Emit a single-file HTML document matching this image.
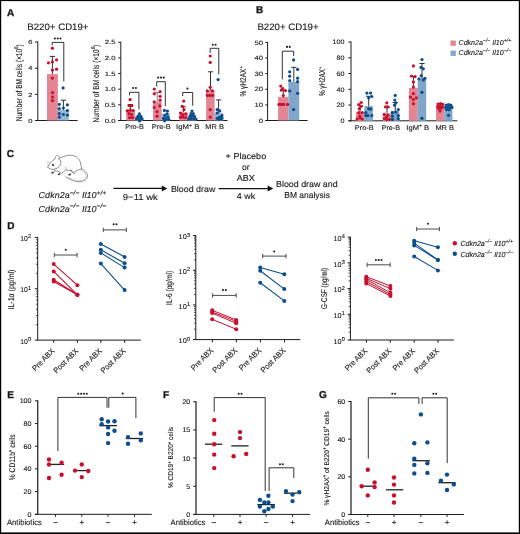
<!DOCTYPE html>
<html><head><meta charset="utf-8"><style>
html,body{margin:0;padding:0;background:#fff;}
svg{display:block;will-change:transform;}
text{font-family:"Liberation Sans", sans-serif;fill:#1a1a1a;stroke:#1a1a1a;stroke-width:0.12px;text-rendering:geometricPrecision;}
</style></head><body>
<svg width="520" height="534" viewBox="0 0 520 534">
<rect x="0" y="0" width="520" height="534" fill="#fff"/>
<text x="7" y="15.9" font-size="10" font-weight="bold" style="stroke-width:0.35px">A</text>
<text x="255.9" y="12.7" font-size="10" font-weight="bold" style="stroke-width:0.35px">B</text>
<text x="6.8" y="157.1" font-size="10" font-weight="bold" style="stroke-width:0.35px">C</text>
<text x="7.3" y="229.4" font-size="10" font-weight="bold" style="stroke-width:0.35px">D</text>
<text x="7.2" y="397.8" font-size="10" font-weight="bold" style="stroke-width:0.35px">E</text>
<text x="162.9" y="398.1" font-size="10" font-weight="bold" style="stroke-width:0.35px">F</text>
<text x="319" y="398.1" font-size="10" font-weight="bold" style="stroke-width:0.35px">G</text>
<text x="27.3" y="30.1" font-size="9.4" textLength="61.2" lengthAdjust="spacingAndGlyphs">B220+ CD19+</text>
<text x="257.4" y="30.1" font-size="9.4" textLength="61.2" lengthAdjust="spacingAndGlyphs">B220+ CD19+</text>
<line x1="37.8" y1="41.52" x2="37.8" y2="121" stroke="#1c1c1c" stroke-width="1" stroke-linecap="butt"/>
<line x1="35" y1="120.5" x2="37.8" y2="120.5" stroke="#1c1c1c" stroke-width="1" stroke-linecap="butt"/>
<text x="32.4" y="122.7" font-size="6.1" text-anchor="end" textLength="4.2" lengthAdjust="spacingAndGlyphs">0</text>
<line x1="35" y1="94.34" x2="37.8" y2="94.34" stroke="#1c1c1c" stroke-width="1" stroke-linecap="butt"/>
<text x="32.4" y="96.54" font-size="6.1" text-anchor="end" textLength="4.2" lengthAdjust="spacingAndGlyphs">2</text>
<line x1="35" y1="68.18" x2="37.8" y2="68.18" stroke="#1c1c1c" stroke-width="1" stroke-linecap="butt"/>
<text x="32.4" y="70.38" font-size="6.1" text-anchor="end" textLength="4.2" lengthAdjust="spacingAndGlyphs">4</text>
<line x1="35" y1="42.02" x2="37.8" y2="42.02" stroke="#1c1c1c" stroke-width="1" stroke-linecap="butt"/>
<text x="32.4" y="44.22" font-size="6.1" text-anchor="end" textLength="4.2" lengthAdjust="spacingAndGlyphs">6</text>
<line x1="35" y1="120.5" x2="77.6" y2="120.5" stroke="#1c1c1c" stroke-width="1" stroke-linecap="butt"/>
<text x="0" y="0" font-size="8.6" textLength="77" lengthAdjust="spacingAndGlyphs" transform="translate(22.2,121.3) rotate(-90)">Number of BM cells (×10<tspan font-size="5.6" dy="-3.8">6</tspan><tspan dy="3.8">)</tspan></text>
<rect x="47" y="74.1" width="10.9" height="46.4" fill="#e48594"/>
<rect x="57.9" y="110" width="11" height="10.5" fill="#95b8d6"/>
<line x1="52.4" y1="74.1" x2="52.4" y2="56.4" stroke="#1c1c1c" stroke-width="0.9" stroke-linecap="butt"/>
<line x1="49.8" y1="56.4" x2="55" y2="56.4" stroke="#1c1c1c" stroke-width="0.9" stroke-linecap="butt"/>
<line x1="63.4" y1="110" x2="63.4" y2="100.2" stroke="#1c1c1c" stroke-width="0.9" stroke-linecap="butt"/>
<line x1="60.8" y1="100.2" x2="66" y2="100.2" stroke="#1c1c1c" stroke-width="0.9" stroke-linecap="butt"/>
<circle cx="52.4" cy="48.2" r="1.6" fill="#c8102e"/>
<circle cx="48.4" cy="62.8" r="1.6" fill="#c8102e"/>
<circle cx="52.4" cy="61.9" r="1.6" fill="#c8102e"/>
<circle cx="56.6" cy="59.8" r="1.6" fill="#c8102e"/>
<circle cx="52.4" cy="70.1" r="1.6" fill="#c8102e"/>
<circle cx="56.6" cy="69.2" r="1.6" fill="#c8102e"/>
<circle cx="52.4" cy="78.1" r="1.6" fill="#c8102e"/>
<circle cx="52.5" cy="92.7" r="1.6" fill="#c8102e"/>
<circle cx="52.5" cy="97" r="1.6" fill="#c8102e"/>
<circle cx="52.5" cy="100.6" r="1.6" fill="#c8102e"/>
<circle cx="63.1" cy="87.9" r="1.6" fill="#0c4d8c"/>
<circle cx="59.3" cy="104.4" r="1.6" fill="#0c4d8c"/>
<circle cx="67.4" cy="104.8" r="1.6" fill="#0c4d8c"/>
<circle cx="59.3" cy="108.7" r="1.6" fill="#0c4d8c"/>
<circle cx="63.4" cy="108" r="1.6" fill="#0c4d8c"/>
<circle cx="67.4" cy="110.5" r="1.6" fill="#0c4d8c"/>
<circle cx="59.3" cy="113.7" r="1.6" fill="#0c4d8c"/>
<circle cx="63.4" cy="114.5" r="1.6" fill="#0c4d8c"/>
<circle cx="67.4" cy="115.1" r="1.6" fill="#0c4d8c"/>
<circle cx="59.3" cy="117.2" r="1.6" fill="#0c4d8c"/>
<polyline points="52.2,45.2 52.2,42.4 63.8,42.4 63.8,81.3" fill="none" stroke="#1c1c1c" stroke-width="0.9"/>
<circle cx="54.9" cy="38.5" r="1.05" fill="#202020"/>
<circle cx="57.7" cy="38.5" r="1.05" fill="#202020"/>
<circle cx="60.5" cy="38.5" r="1.05" fill="#202020"/>
<line x1="120.8" y1="41.75" x2="120.8" y2="121" stroke="#1c1c1c" stroke-width="1" stroke-linecap="butt"/>
<line x1="118.2" y1="120.5" x2="120.8" y2="120.5" stroke="#1c1c1c" stroke-width="1" stroke-linecap="butt"/>
<text x="115.6" y="122.7" font-size="6.1" text-anchor="end" textLength="10.8" lengthAdjust="spacingAndGlyphs">0.0</text>
<line x1="118.2" y1="104.85" x2="120.8" y2="104.85" stroke="#1c1c1c" stroke-width="1" stroke-linecap="butt"/>
<text x="115.6" y="107.05" font-size="6.1" text-anchor="end" textLength="10.8" lengthAdjust="spacingAndGlyphs">0.5</text>
<line x1="118.2" y1="89.2" x2="120.8" y2="89.2" stroke="#1c1c1c" stroke-width="1" stroke-linecap="butt"/>
<text x="115.6" y="91.4" font-size="6.1" text-anchor="end" textLength="10.8" lengthAdjust="spacingAndGlyphs">1.0</text>
<line x1="118.2" y1="73.55" x2="120.8" y2="73.55" stroke="#1c1c1c" stroke-width="1" stroke-linecap="butt"/>
<text x="115.6" y="75.75" font-size="6.1" text-anchor="end" textLength="10.8" lengthAdjust="spacingAndGlyphs">1.5</text>
<line x1="118.2" y1="57.9" x2="120.8" y2="57.9" stroke="#1c1c1c" stroke-width="1" stroke-linecap="butt"/>
<text x="115.6" y="60.1" font-size="6.1" text-anchor="end" textLength="10.8" lengthAdjust="spacingAndGlyphs">2.0</text>
<line x1="118.2" y1="42.25" x2="120.8" y2="42.25" stroke="#1c1c1c" stroke-width="1" stroke-linecap="butt"/>
<text x="115.6" y="44.45" font-size="6.1" text-anchor="end" textLength="10.8" lengthAdjust="spacingAndGlyphs">2.5</text>
<line x1="118.2" y1="120.5" x2="227.5" y2="120.5" stroke="#1c1c1c" stroke-width="1" stroke-linecap="butt"/>
<text x="0" y="0" font-size="8.6" textLength="77.9" lengthAdjust="spacingAndGlyphs" transform="translate(99.2,122.6) rotate(-90)">Number of BM cells (×10<tspan font-size="5.6" dy="-3.8">6</tspan><tspan dy="3.8">)</tspan></text>
<text x="125.3" y="129.3" font-size="6.8" textLength="18.6" lengthAdjust="spacingAndGlyphs">Pro-B</text>
<text x="151.8" y="129.3" font-size="6.8" textLength="18.9" lengthAdjust="spacingAndGlyphs">Pre-B</text>
<text x="176.1" y="129.3" font-size="6.8" textLength="23.3" lengthAdjust="spacingAndGlyphs">IgM<tspan font-size="4.5" dy="-2.6">+</tspan><tspan dy="2.6"> B</tspan></text>
<text x="205.3" y="129.3" font-size="6.8" textLength="18.6" lengthAdjust="spacingAndGlyphs">MR B</text>
<rect x="126.2" y="109.8" width="8.8" height="10.7" fill="#e48594"/>
<rect x="135" y="116.3" width="8.2" height="4.2" fill="#95b8d6"/>
<line x1="130.4" y1="109.8" x2="130.4" y2="104.5" stroke="#1c1c1c" stroke-width="0.9" stroke-linecap="butt"/>
<line x1="127.8" y1="104.5" x2="133" y2="104.5" stroke="#1c1c1c" stroke-width="0.9" stroke-linecap="butt"/>
<circle cx="130.1" cy="99.6" r="1.6" fill="#c8102e"/>
<circle cx="129" cy="105.6" r="1.6" fill="#c8102e"/>
<circle cx="131.8" cy="105.6" r="1.6" fill="#c8102e"/>
<circle cx="127.3" cy="110.8" r="1.6" fill="#c8102e"/>
<circle cx="130.1" cy="110.2" r="1.6" fill="#c8102e"/>
<circle cx="133" cy="110.5" r="1.6" fill="#c8102e"/>
<circle cx="129" cy="113.7" r="1.6" fill="#c8102e"/>
<circle cx="131.5" cy="114.5" r="1.6" fill="#c8102e"/>
<circle cx="129.5" cy="117.6" r="1.6" fill="#c8102e"/>
<circle cx="132.5" cy="117.6" r="1.6" fill="#c8102e"/>
<circle cx="139.4" cy="113.9" r="1.6" fill="#0c4d8c"/>
<circle cx="138" cy="116.3" r="1.6" fill="#0c4d8c"/>
<circle cx="140.8" cy="116.4" r="1.6" fill="#0c4d8c"/>
<circle cx="136.6" cy="118.7" r="1.6" fill="#0c4d8c"/>
<circle cx="139.3" cy="118.4" r="1.6" fill="#0c4d8c"/>
<circle cx="142" cy="118.9" r="1.6" fill="#0c4d8c"/>
<circle cx="139.6" cy="120.9" r="1.6" fill="#0c4d8c"/>
<polyline points="129.5,95.3 129.5,92.3 138.9,92.3 138.9,109.4" fill="none" stroke="#1c1c1c" stroke-width="0.9"/>
<circle cx="133.1" cy="88" r="1.05" fill="#202020"/>
<circle cx="135.9" cy="88" r="1.05" fill="#202020"/>
<rect x="153" y="101.8" width="8.6" height="18.7" fill="#e48594"/>
<rect x="161.6" y="113.5" width="8.4" height="7" fill="#95b8d6"/>
<line x1="157.3" y1="101.8" x2="157.3" y2="92.6" stroke="#777" stroke-width="0.9" stroke-linecap="butt"/>
<line x1="154.7" y1="92.6" x2="159.9" y2="92.6" stroke="#777" stroke-width="0.9" stroke-linecap="butt"/>
<circle cx="154.3" cy="89.1" r="1.6" fill="#c8102e"/>
<circle cx="160.1" cy="91.7" r="1.6" fill="#c8102e"/>
<circle cx="154.3" cy="93.8" r="1.6" fill="#c8102e"/>
<circle cx="160.1" cy="96.3" r="1.6" fill="#c8102e"/>
<circle cx="160.1" cy="100.2" r="1.6" fill="#c8102e"/>
<circle cx="154.2" cy="101.8" r="1.6" fill="#c8102e"/>
<circle cx="159.8" cy="105.9" r="1.6" fill="#c8102e"/>
<circle cx="154.3" cy="107.5" r="1.6" fill="#c8102e"/>
<circle cx="157" cy="111.7" r="1.6" fill="#c8102e"/>
<circle cx="157" cy="116.2" r="1.6" fill="#c8102e"/>
<circle cx="164.4" cy="110.4" r="1.6" fill="#0c4d8c"/>
<circle cx="167.4" cy="111" r="1.6" fill="#0c4d8c"/>
<circle cx="167" cy="113.8" r="1.6" fill="#0c4d8c"/>
<circle cx="164.8" cy="115.6" r="1.6" fill="#0c4d8c"/>
<circle cx="167.8" cy="117" r="1.6" fill="#0c4d8c"/>
<circle cx="163.4" cy="118.4" r="1.6" fill="#0c4d8c"/>
<circle cx="166" cy="118.9" r="1.6" fill="#0c4d8c"/>
<circle cx="168.8" cy="119.4" r="1.6" fill="#0c4d8c"/>
<circle cx="164.6" cy="120.8" r="1.6" fill="#0c4d8c"/>
<polyline points="156.7,86.5 156.7,81.7 165.3,81.7 165.3,106.2" fill="none" stroke="#1c1c1c" stroke-width="0.9"/>
<circle cx="158.2" cy="77.6" r="1.05" fill="#202020"/>
<circle cx="161" cy="77.6" r="1.05" fill="#202020"/>
<circle cx="163.8" cy="77.6" r="1.05" fill="#202020"/>
<rect x="179.2" y="112.3" width="8.6" height="8.2" fill="#e48594"/>
<rect x="187.8" y="116.2" width="8.5" height="4.3" fill="#95b8d6"/>
<line x1="183.4" y1="112.3" x2="183.4" y2="106.8" stroke="#1c1c1c" stroke-width="0.9" stroke-linecap="butt"/>
<line x1="180.8" y1="106.8" x2="186" y2="106.8" stroke="#1c1c1c" stroke-width="0.9" stroke-linecap="butt"/>
<circle cx="183.7" cy="101.1" r="1.6" fill="#c8102e"/>
<circle cx="182.3" cy="106.3" r="1.6" fill="#c8102e"/>
<circle cx="184" cy="109.7" r="1.6" fill="#c8102e"/>
<circle cx="180.6" cy="113.1" r="1.6" fill="#c8102e"/>
<circle cx="182.7" cy="114.9" r="1.6" fill="#c8102e"/>
<circle cx="185.8" cy="114" r="1.6" fill="#c8102e"/>
<circle cx="182.7" cy="117.1" r="1.6" fill="#c8102e"/>
<circle cx="185.5" cy="117.5" r="1.6" fill="#c8102e"/>
<circle cx="180.5" cy="117.3" r="1.6" fill="#c8102e"/>
<circle cx="192" cy="111" r="1.6" fill="#0c4d8c"/>
<circle cx="191" cy="113.6" r="1.6" fill="#0c4d8c"/>
<circle cx="193.2" cy="113.6" r="1.6" fill="#0c4d8c"/>
<circle cx="190" cy="116.2" r="1.6" fill="#0c4d8c"/>
<circle cx="192.2" cy="116" r="1.6" fill="#0c4d8c"/>
<circle cx="194.4" cy="116.4" r="1.6" fill="#0c4d8c"/>
<circle cx="188.8" cy="118.8" r="1.6" fill="#0c4d8c"/>
<circle cx="191.4" cy="118.6" r="1.6" fill="#0c4d8c"/>
<circle cx="194" cy="118.6" r="1.6" fill="#0c4d8c"/>
<circle cx="196" cy="119" r="1.6" fill="#0c4d8c"/>
<polyline points="182.7,96 182.7,92.5 192.7,92.5 192.7,105.7" fill="none" stroke="#1c1c1c" stroke-width="0.9"/>
<circle cx="187.5" cy="88.6" r="1.05" fill="#202020"/>
<rect x="206.1" y="90.4" width="8.5" height="30.1" fill="#e48594"/>
<rect x="214.6" y="113.1" width="8.7" height="7.4" fill="#95b8d6"/>
<line x1="210.5" y1="90.4" x2="210.5" y2="71.8" stroke="#1c1c1c" stroke-width="0.9" stroke-linecap="butt"/>
<line x1="207.9" y1="71.8" x2="213.1" y2="71.8" stroke="#1c1c1c" stroke-width="0.9" stroke-linecap="butt"/>
<line x1="218.6" y1="113.1" x2="218.6" y2="99.9" stroke="#1c1c1c" stroke-width="0.9" stroke-linecap="butt"/>
<line x1="216" y1="99.9" x2="221.2" y2="99.9" stroke="#1c1c1c" stroke-width="0.9" stroke-linecap="butt"/>
<circle cx="210.2" cy="56" r="1.6" fill="#c8102e"/>
<circle cx="210.2" cy="62.4" r="1.6" fill="#c8102e"/>
<circle cx="210.2" cy="87.3" r="1.6" fill="#c8102e"/>
<circle cx="207.3" cy="90.8" r="1.6" fill="#c8102e"/>
<circle cx="212.4" cy="90.8" r="1.6" fill="#c8102e"/>
<circle cx="207.3" cy="95.4" r="1.6" fill="#c8102e"/>
<circle cx="209.8" cy="95.4" r="1.6" fill="#c8102e"/>
<circle cx="212.6" cy="95.4" r="1.6" fill="#c8102e"/>
<circle cx="210.2" cy="109.7" r="1.6" fill="#c8102e"/>
<circle cx="210.2" cy="117.1" r="1.6" fill="#c8102e"/>
<circle cx="218.1" cy="79.6" r="1.6" fill="#0c4d8c"/>
<circle cx="217.1" cy="109.7" r="1.6" fill="#0c4d8c"/>
<circle cx="219.8" cy="110.9" r="1.6" fill="#0c4d8c"/>
<circle cx="217.1" cy="113.1" r="1.6" fill="#0c4d8c"/>
<circle cx="221.9" cy="115.7" r="1.6" fill="#0c4d8c"/>
<circle cx="217.1" cy="118.3" r="1.6" fill="#0c4d8c"/>
<circle cx="221.9" cy="118.3" r="1.6" fill="#0c4d8c"/>
<circle cx="219.5" cy="117" r="1.6" fill="#0c4d8c"/>
<circle cx="219.5" cy="119.2" r="1.6" fill="#0c4d8c"/>
<polyline points="210.2,52.9 210.2,48.3 218.8,48.3 218.8,74.4" fill="none" stroke="#1c1c1c" stroke-width="0.9"/>
<circle cx="212.8" cy="44.8" r="1.05" fill="#202020"/>
<circle cx="215.6" cy="44.8" r="1.05" fill="#202020"/>
<line x1="267.6" y1="41.9" x2="267.6" y2="121" stroke="#1c1c1c" stroke-width="1" stroke-linecap="butt"/>
<line x1="265.3" y1="120.5" x2="267.6" y2="120.5" stroke="#1c1c1c" stroke-width="1" stroke-linecap="butt"/>
<text x="263.1" y="122.7" font-size="6.2" text-anchor="end" textLength="4.3" lengthAdjust="spacingAndGlyphs">0</text>
<line x1="265.3" y1="104.88" x2="267.6" y2="104.88" stroke="#1c1c1c" stroke-width="1" stroke-linecap="butt"/>
<text x="263.1" y="107.08" font-size="6.2" text-anchor="end" textLength="8.6" lengthAdjust="spacingAndGlyphs">10</text>
<line x1="265.3" y1="89.26" x2="267.6" y2="89.26" stroke="#1c1c1c" stroke-width="1" stroke-linecap="butt"/>
<text x="263.1" y="91.46" font-size="6.2" text-anchor="end" textLength="8.6" lengthAdjust="spacingAndGlyphs">20</text>
<line x1="265.3" y1="73.64" x2="267.6" y2="73.64" stroke="#1c1c1c" stroke-width="1" stroke-linecap="butt"/>
<text x="263.1" y="75.84" font-size="6.2" text-anchor="end" textLength="8.6" lengthAdjust="spacingAndGlyphs">30</text>
<line x1="265.3" y1="58.02" x2="267.6" y2="58.02" stroke="#1c1c1c" stroke-width="1" stroke-linecap="butt"/>
<text x="263.1" y="60.22" font-size="6.2" text-anchor="end" textLength="8.6" lengthAdjust="spacingAndGlyphs">40</text>
<line x1="265.3" y1="42.4" x2="267.6" y2="42.4" stroke="#1c1c1c" stroke-width="1" stroke-linecap="butt"/>
<text x="263.1" y="44.6" font-size="6.2" text-anchor="end" textLength="8.6" lengthAdjust="spacingAndGlyphs">50</text>
<line x1="265.3" y1="120.5" x2="307.6" y2="120.5" stroke="#1c1c1c" stroke-width="1" stroke-linecap="butt"/>
<text x="0" y="0" font-size="8.6" textLength="30.4" lengthAdjust="spacingAndGlyphs" transform="translate(246.2,96.6) rotate(-90)">% γH2AX<tspan font-size="5.4" dy="-3.4">+</tspan></text>
<rect x="278.1" y="96.9" width="10.3" height="23.6" fill="#e48594"/>
<rect x="288.4" y="81.7" width="10.8" height="38.8" fill="#80a6c9"/>
<line x1="283.3" y1="96.9" x2="283.3" y2="90.6" stroke="#1c1c1c" stroke-width="0.9" stroke-linecap="butt"/>
<line x1="280.7" y1="90.6" x2="285.9" y2="90.6" stroke="#1c1c1c" stroke-width="0.9" stroke-linecap="butt"/>
<line x1="293.8" y1="81.7" x2="293.8" y2="67.3" stroke="#1c1c1c" stroke-width="0.9" stroke-linecap="butt"/>
<line x1="291.2" y1="67.3" x2="296.4" y2="67.3" stroke="#1c1c1c" stroke-width="0.9" stroke-linecap="butt"/>
<circle cx="280.8" cy="86.1" r="1.6" fill="#c8102e"/>
<circle cx="282.8" cy="88.5" r="1.6" fill="#c8102e"/>
<circle cx="281.2" cy="90.1" r="1.6" fill="#c8102e"/>
<circle cx="285.5" cy="90.6" r="1.6" fill="#c8102e"/>
<circle cx="283.3" cy="95.6" r="1.6" fill="#c8102e"/>
<circle cx="278.9" cy="104.4" r="1.6" fill="#c8102e"/>
<circle cx="281.3" cy="104.4" r="1.6" fill="#c8102e"/>
<circle cx="283.7" cy="104.4" r="1.6" fill="#c8102e"/>
<circle cx="287.6" cy="104.4" r="1.6" fill="#c8102e"/>
<circle cx="293.6" cy="59.9" r="1.6" fill="#0c4d8c"/>
<circle cx="289.7" cy="71.8" r="1.6" fill="#0c4d8c"/>
<circle cx="297.6" cy="69.4" r="1.6" fill="#0c4d8c"/>
<circle cx="289.7" cy="76.2" r="1.6" fill="#0c4d8c"/>
<circle cx="289.7" cy="80.5" r="1.6" fill="#0c4d8c"/>
<circle cx="297.6" cy="78.2" r="1.6" fill="#0c4d8c"/>
<circle cx="297.6" cy="81.7" r="1.6" fill="#0c4d8c"/>
<circle cx="289.7" cy="90.9" r="1.6" fill="#0c4d8c"/>
<circle cx="297.6" cy="93.3" r="1.6" fill="#0c4d8c"/>
<circle cx="293.6" cy="109.6" r="1.6" fill="#0c4d8c"/>
<polyline points="282.3,79.4 282.3,51.2 293.7,51.2 293.7,56" fill="none" stroke="#1c1c1c" stroke-width="0.9"/>
<circle cx="287" cy="46.9" r="1.05" fill="#202020"/>
<circle cx="289.8" cy="46.9" r="1.05" fill="#202020"/>
<line x1="351" y1="41.55" x2="351" y2="121.3" stroke="#1c1c1c" stroke-width="1" stroke-linecap="butt"/>
<line x1="348.3" y1="120.8" x2="351" y2="120.8" stroke="#1c1c1c" stroke-width="1" stroke-linecap="butt"/>
<text x="344.6" y="123" font-size="6.4" text-anchor="end" textLength="4" lengthAdjust="spacingAndGlyphs">0</text>
<line x1="348.3" y1="105.05" x2="351" y2="105.05" stroke="#1c1c1c" stroke-width="1" stroke-linecap="butt"/>
<text x="344.6" y="107.25" font-size="6.4" text-anchor="end" textLength="8" lengthAdjust="spacingAndGlyphs">20</text>
<line x1="348.3" y1="89.3" x2="351" y2="89.3" stroke="#1c1c1c" stroke-width="1" stroke-linecap="butt"/>
<text x="344.6" y="91.5" font-size="6.4" text-anchor="end" textLength="8" lengthAdjust="spacingAndGlyphs">40</text>
<line x1="348.3" y1="73.55" x2="351" y2="73.55" stroke="#1c1c1c" stroke-width="1" stroke-linecap="butt"/>
<text x="344.6" y="75.75" font-size="6.4" text-anchor="end" textLength="8" lengthAdjust="spacingAndGlyphs">60</text>
<line x1="348.3" y1="57.8" x2="351" y2="57.8" stroke="#1c1c1c" stroke-width="1" stroke-linecap="butt"/>
<text x="344.6" y="60" font-size="6.4" text-anchor="end" textLength="8" lengthAdjust="spacingAndGlyphs">80</text>
<line x1="348.3" y1="42.05" x2="351" y2="42.05" stroke="#1c1c1c" stroke-width="1" stroke-linecap="butt"/>
<text x="344.6" y="44.25" font-size="6.4" text-anchor="end" textLength="12" lengthAdjust="spacingAndGlyphs">100</text>
<line x1="348.5" y1="120.8" x2="457.4" y2="120.8" stroke="#1c1c1c" stroke-width="1" stroke-linecap="butt"/>
<text x="0" y="0" font-size="8.6" textLength="29.4" lengthAdjust="spacingAndGlyphs" transform="translate(324.9,96.1) rotate(-90)">% γH2AX<tspan font-size="5.4" dy="-3.4">+</tspan></text>
<text x="354.8" y="129.6" font-size="6.8" textLength="18.8" lengthAdjust="spacingAndGlyphs">Pro-B</text>
<text x="381.7" y="129.6" font-size="6.8" textLength="18.3" lengthAdjust="spacingAndGlyphs">Pre-B</text>
<text x="406.3" y="129.6" font-size="6.8" textLength="22.8" lengthAdjust="spacingAndGlyphs">IgM<tspan font-size="4.5" dy="-2.6">+</tspan><tspan dy="2.6"> B</tspan></text>
<text x="435.4" y="129.6" font-size="6.8" textLength="18.6" lengthAdjust="spacingAndGlyphs">MR B</text>
<rect x="356" y="112.1" width="8.4" height="8.7" fill="#e48594"/>
<rect x="364.4" y="106.1" width="8.5" height="14.7" fill="#80a6c9"/>
<line x1="360" y1="112.1" x2="360" y2="105.5" stroke="#1c1c1c" stroke-width="0.9" stroke-linecap="butt"/>
<line x1="357.4" y1="105.5" x2="362.6" y2="105.5" stroke="#1c1c1c" stroke-width="0.9" stroke-linecap="butt"/>
<line x1="368.7" y1="106.1" x2="368.7" y2="96.3" stroke="#1c1c1c" stroke-width="0.9" stroke-linecap="butt"/>
<line x1="366.1" y1="96.3" x2="371.3" y2="96.3" stroke="#1c1c1c" stroke-width="0.9" stroke-linecap="butt"/>
<circle cx="361.2" cy="102.5" r="1.6" fill="#c8102e"/>
<circle cx="358.8" cy="104.6" r="1.6" fill="#c8102e"/>
<circle cx="361.2" cy="106.3" r="1.6" fill="#c8102e"/>
<circle cx="359.4" cy="108.7" r="1.6" fill="#c8102e"/>
<circle cx="358.8" cy="112.7" r="1.6" fill="#c8102e"/>
<circle cx="362.1" cy="112.7" r="1.6" fill="#c8102e"/>
<circle cx="359.8" cy="116.2" r="1.6" fill="#c8102e"/>
<circle cx="357.1" cy="119" r="1.6" fill="#c8102e"/>
<circle cx="362.3" cy="119" r="1.6" fill="#c8102e"/>
<circle cx="360" cy="118" r="1.6" fill="#c8102e"/>
<circle cx="366.9" cy="93.1" r="1.6" fill="#0c4d8c"/>
<circle cx="370.6" cy="93.1" r="1.6" fill="#0c4d8c"/>
<circle cx="371.8" cy="96.5" r="1.6" fill="#0c4d8c"/>
<circle cx="368.7" cy="97.9" r="1.6" fill="#0c4d8c"/>
<circle cx="368.7" cy="108.7" r="1.6" fill="#0c4d8c"/>
<circle cx="365.8" cy="112.5" r="1.6" fill="#0c4d8c"/>
<circle cx="370.6" cy="109.2" r="1.6" fill="#0c4d8c"/>
<circle cx="365.8" cy="115.6" r="1.6" fill="#0c4d8c"/>
<circle cx="371.8" cy="115.6" r="1.6" fill="#0c4d8c"/>
<circle cx="367.8" cy="115.6" r="1.6" fill="#0c4d8c"/>
<rect x="383.1" y="113.6" width="7.8" height="7.2" fill="#e48594"/>
<rect x="390.9" y="111" width="8.3" height="9.8" fill="#80a6c9"/>
<line x1="387" y1="113.6" x2="387" y2="107.5" stroke="#1c1c1c" stroke-width="0.9" stroke-linecap="butt"/>
<line x1="384.4" y1="107.5" x2="389.6" y2="107.5" stroke="#1c1c1c" stroke-width="0.9" stroke-linecap="butt"/>
<line x1="395.2" y1="111" x2="395.2" y2="102.5" stroke="#1c1c1c" stroke-width="0.9" stroke-linecap="butt"/>
<line x1="392.6" y1="102.5" x2="397.8" y2="102.5" stroke="#1c1c1c" stroke-width="0.9" stroke-linecap="butt"/>
<circle cx="386.8" cy="102.9" r="1.6" fill="#c8102e"/>
<circle cx="385.6" cy="106.9" r="1.6" fill="#c8102e"/>
<circle cx="387.9" cy="106.9" r="1.6" fill="#c8102e"/>
<circle cx="384.2" cy="114.4" r="1.6" fill="#c8102e"/>
<circle cx="387.9" cy="115.2" r="1.6" fill="#c8102e"/>
<circle cx="384.2" cy="118.5" r="1.6" fill="#c8102e"/>
<circle cx="386.8" cy="119.6" r="1.6" fill="#c8102e"/>
<circle cx="389.5" cy="119.3" r="1.6" fill="#c8102e"/>
<circle cx="386.5" cy="117" r="1.6" fill="#c8102e"/>
<circle cx="395.2" cy="95.4" r="1.6" fill="#0c4d8c"/>
<circle cx="394.8" cy="100" r="1.6" fill="#0c4d8c"/>
<circle cx="395.8" cy="102.9" r="1.6" fill="#0c4d8c"/>
<circle cx="394.6" cy="105.2" r="1.6" fill="#0c4d8c"/>
<circle cx="398.3" cy="109.5" r="1.6" fill="#0c4d8c"/>
<circle cx="395.8" cy="112.1" r="1.6" fill="#0c4d8c"/>
<circle cx="392.3" cy="112.7" r="1.6" fill="#0c4d8c"/>
<circle cx="398.3" cy="115.6" r="1.6" fill="#0c4d8c"/>
<circle cx="392.3" cy="116.2" r="1.6" fill="#0c4d8c"/>
<circle cx="398.3" cy="118.7" r="1.6" fill="#0c4d8c"/>
<circle cx="392.5" cy="119.4" r="1.6" fill="#0c4d8c"/>
<rect x="408.9" y="88" width="8.8" height="32.8" fill="#e48594"/>
<rect x="417.7" y="79.2" width="8.5" height="41.6" fill="#80a6c9"/>
<line x1="413.4" y1="88" x2="413.4" y2="76.6" stroke="#1c1c1c" stroke-width="0.9" stroke-linecap="butt"/>
<line x1="410.8" y1="76.6" x2="416" y2="76.6" stroke="#1c1c1c" stroke-width="0.9" stroke-linecap="butt"/>
<line x1="422" y1="79.2" x2="422" y2="63.5" stroke="#1c1c1c" stroke-width="0.9" stroke-linecap="butt"/>
<line x1="419.4" y1="63.5" x2="424.6" y2="63.5" stroke="#1c1c1c" stroke-width="0.9" stroke-linecap="butt"/>
<circle cx="413.4" cy="65.9" r="1.6" fill="#c8102e"/>
<circle cx="411.5" cy="76" r="1.6" fill="#c8102e"/>
<circle cx="415.1" cy="76.6" r="1.6" fill="#c8102e"/>
<circle cx="413.4" cy="81.9" r="1.6" fill="#c8102e"/>
<circle cx="413.4" cy="87.1" r="1.6" fill="#c8102e"/>
<circle cx="413.4" cy="93.6" r="1.6" fill="#c8102e"/>
<circle cx="410.5" cy="97.2" r="1.6" fill="#c8102e"/>
<circle cx="416.4" cy="97.8" r="1.6" fill="#c8102e"/>
<circle cx="413.4" cy="99.5" r="1.6" fill="#c8102e"/>
<circle cx="413.4" cy="103.7" r="1.6" fill="#c8102e"/>
<circle cx="422" cy="59.6" r="1.6" fill="#0c4d8c"/>
<circle cx="421" cy="67.4" r="1.6" fill="#0c4d8c"/>
<circle cx="423.3" cy="68.8" r="1.6" fill="#0c4d8c"/>
<circle cx="421.2" cy="75.7" r="1.6" fill="#0c4d8c"/>
<circle cx="419" cy="78.8" r="1.6" fill="#0c4d8c"/>
<circle cx="424.9" cy="78.3" r="1.6" fill="#0c4d8c"/>
<circle cx="423.3" cy="79.9" r="1.6" fill="#0c4d8c"/>
<circle cx="422" cy="92.3" r="1.6" fill="#0c4d8c"/>
<circle cx="422" cy="118.3" r="1.6" fill="#0c4d8c"/>
<rect x="436" y="107.4" width="8.3" height="13.4" fill="#e48594"/>
<rect x="444.3" y="107.1" width="8.1" height="13.7" fill="#80a6c9"/>
<circle cx="438" cy="104" r="1.6" fill="#c8102e"/>
<circle cx="440.5" cy="103.6" r="1.6" fill="#c8102e"/>
<circle cx="442.7" cy="104.3" r="1.6" fill="#c8102e"/>
<circle cx="437.6" cy="106.5" r="1.6" fill="#c8102e"/>
<circle cx="440.2" cy="106.2" r="1.6" fill="#c8102e"/>
<circle cx="442.6" cy="106.8" r="1.6" fill="#c8102e"/>
<circle cx="438.5" cy="108.3" r="1.6" fill="#c8102e"/>
<circle cx="441.2" cy="108.3" r="1.6" fill="#c8102e"/>
<circle cx="440" cy="111.1" r="1.6" fill="#c8102e"/>
<circle cx="446.2" cy="105" r="1.6" fill="#0c4d8c"/>
<circle cx="448.5" cy="104.6" r="1.6" fill="#0c4d8c"/>
<circle cx="450.8" cy="105.2" r="1.6" fill="#0c4d8c"/>
<circle cx="445.6" cy="107.4" r="1.6" fill="#0c4d8c"/>
<circle cx="447.8" cy="107.2" r="1.6" fill="#0c4d8c"/>
<circle cx="450.2" cy="107.5" r="1.6" fill="#0c4d8c"/>
<circle cx="452" cy="107.4" r="1.6" fill="#0c4d8c"/>
<circle cx="446.5" cy="109.6" r="1.6" fill="#0c4d8c"/>
<circle cx="449.2" cy="109.8" r="1.6" fill="#0c4d8c"/>
<circle cx="448.5" cy="115.3" r="1.6" fill="#0c4d8c"/>
<rect x="450.5" y="40.5" width="5.3" height="5.3" fill="#e48594"/>
<rect x="450.5" y="50.6" width="5.3" height="5.3" fill="#80a6c9"/>
<text x="458.6" y="44.8" font-size="7.2" font-style="italic" textLength="52.6" lengthAdjust="spacingAndGlyphs" fill="#444" stroke="#444">Cdkn2a<tspan font-size="5.3" dy="-3">−/−</tspan><tspan dy="3"> Il10</tspan><tspan font-size="5.3" dy="-3">+/+</tspan></text>
<text x="458.6" y="55.3" font-size="7.2" font-style="italic" textLength="52.6" lengthAdjust="spacingAndGlyphs" fill="#444" stroke="#444">Cdkn2a<tspan font-size="5.3" dy="-3">−/−</tspan><tspan dy="3"> Il10</tspan><tspan font-size="5.3" dy="-3">−/−</tspan></text>
<g fill="none" stroke="#6f6f6f" stroke-width="0.75" stroke-linecap="round" stroke-linejoin="round">
<path d="M47.7,167.2 C49,163.8 51.8,160.8 55.3,158.8 C54.8,157.2 55.8,155.5 57.5,155.5 C59.0,155.5 59.8,157.0 58.8,158.5 C60.6,157.6 62.8,156.6 65.1,156.0 C68,155.0 71.5,154.8 74.6,156.0 C77.6,157.2 79.8,159.8 80.6,163.0 C81.1,165 81.4,167 81.6,168.8"/>
<path d="M58.6,158.9 C60.4,159.7 61.2,161.6 60.7,163.6 C60.2,165.8 58.6,167.6 56.2,168.6"/>
<path d="M47.7,167.2 C48.6,168.6 50.6,169.4 53.4,169.3 C54.6,169.2 55.4,168.9 56.2,168.6"/>
<path d="M54.3,169.3 C55.1,170.2 55.2,171.3 54.2,172.2"/>
<path d="M55.6,170.9 C57.2,171.0 59.0,171.5 60.4,172.4"/>
<path d="M61.3,173.4 C62.8,172.4 64.3,171.0 65.7,170.1 C68.0,170.1 70.0,170.3 71.6,170.7"/>
<path d="M65.6,167.4 L66.1,169.4" stroke-width="0.5"/>
<path d="M81.6,169.1 C79.5,169.4 77.2,170.0 75.9,171.0 C75.0,171.8 74.6,172.5 74.3,173.2"/>
<path d="M71.0,170.6 L74.0,173.2" stroke="#444" stroke-width="0.9"/>
<path d="M81.6,168.8 C84.6,170.2 87.4,173.0 87.4,175.8 C87.4,179.4 84.0,181.6 79.1,181.8 C74.6,181.8 70.0,179.6 65.8,177.0"/>
<path d="M80.8,169.4 C83.6,170.9 86.0,173.3 86.2,175.7 C86.4,178.5 83.6,180.5 79.4,180.6 C75.6,180.7 71.4,178.9 68.0,177.3" stroke="#a0a0a0" stroke-width="0.5"/>
<path d="M49.4,163.6 L46.9,160.9 M49.8,163.0 L47.9,159.9 M49.0,164.4 L46.3,162.6 M48.8,165.2 L46.2,164.4" stroke="#b0b0b0" stroke-width="0.4"/>
</g>
<circle cx="53.0" cy="165.0" r="1.0" fill="#1a1a1a"/>
<ellipse cx="52.6" cy="172.7" rx="1.4" ry="0.9" fill="#3a3a3a" transform="rotate(-15 52.6 172.7)"/>
<ellipse cx="59.2" cy="174.2" rx="1.4" ry="0.9" fill="#3a3a3a" transform="rotate(-15 59.2 174.2)"/>
<ellipse cx="69.7" cy="174.6" rx="1.5" ry="0.9" fill="#3a3a3a" transform="rotate(-15 69.7 174.6)"/>

<text x="38.6" y="198.1" font-size="8.6" font-style="italic" textLength="67.6" lengthAdjust="spacingAndGlyphs" fill="#333" stroke="#333">Cdkn2a<tspan font-size="6.4" dy="-3.5">−/−</tspan><tspan dy="3.5"> Il10</tspan><tspan font-size="6.4" dy="-3.5">+/+</tspan></text>
<text x="38.6" y="211.5" font-size="8.6" font-style="italic" textLength="67.6" lengthAdjust="spacingAndGlyphs" fill="#333" stroke="#333">Cdkn2a<tspan font-size="6.4" dy="-3.5">−/−</tspan><tspan dy="3.5"> Il10</tspan><tspan font-size="6.4" dy="-3.5">−/−</tspan></text>
<line x1="113.4" y1="188.4" x2="162.3" y2="188.4" stroke="#111" stroke-width="1.25" stroke-linecap="butt"/>
<polygon points="161.8,185.4 167.3,188.4 161.8,191.4" fill="#111"/>
<line x1="218.6" y1="188.5" x2="268.2" y2="188.5" stroke="#111" stroke-width="1.25" stroke-linecap="butt"/>
<polygon points="267.7,185.5 273.2,188.5 267.7,191.5" fill="#111"/>
<text x="122.8" y="199.9" font-size="8.6" textLength="35" lengthAdjust="spacingAndGlyphs">9−11 wk</text>
<text x="170.9" y="191.8" font-size="8.6" textLength="44.4" lengthAdjust="spacingAndGlyphs">Blood draw</text>
<text x="225.6" y="158.7" font-size="8.6" textLength="40.6" lengthAdjust="spacingAndGlyphs">+ Placebo</text>
<text x="245.9" y="169.8" font-size="8.6" text-anchor="middle">or</text>
<text x="236.8" y="180.5" font-size="8.6" textLength="18" lengthAdjust="spacingAndGlyphs">ABX</text>
<text x="236.8" y="199.2" font-size="8.6" textLength="18.3" lengthAdjust="spacingAndGlyphs">4 wk</text>
<text x="276" y="186.8" font-size="8.6" textLength="61.6" lengthAdjust="spacingAndGlyphs">Blood draw and</text>
<text x="284.3" y="197.6" font-size="8.6" textLength="45.6" lengthAdjust="spacingAndGlyphs">BM analysis</text>
<line x1="37.7" y1="237" x2="37.7" y2="340.6" stroke="#1c1c1c" stroke-width="1" stroke-linecap="butt"/>
<line x1="34.9" y1="340.1" x2="37.7" y2="340.1" stroke="#1c1c1c" stroke-width="1" stroke-linecap="butt"/>
<text x="27.8" y="343.8" font-size="7" text-anchor="end" textLength="7.6" lengthAdjust="spacingAndGlyphs">10</text>
<text x="27.95" y="341.1" font-size="5.6">0</text>
<line x1="34.9" y1="288.75" x2="37.7" y2="288.75" stroke="#1c1c1c" stroke-width="1" stroke-linecap="butt"/>
<text x="27.8" y="292.45" font-size="7" text-anchor="end" textLength="7.6" lengthAdjust="spacingAndGlyphs">10</text>
<text x="27.95" y="289.75" font-size="5.6">1</text>
<line x1="34.9" y1="237.4" x2="37.7" y2="237.4" stroke="#1c1c1c" stroke-width="1" stroke-linecap="butt"/>
<text x="27.8" y="241.1" font-size="7" text-anchor="end" textLength="7.6" lengthAdjust="spacingAndGlyphs">10</text>
<text x="27.95" y="238.4" font-size="5.6">2</text>
<line x1="35.9" y1="324.64" x2="37.7" y2="324.64" stroke="#1c1c1c" stroke-width="0.75" stroke-linecap="butt"/>
<line x1="35.9" y1="315.6" x2="37.7" y2="315.6" stroke="#1c1c1c" stroke-width="0.75" stroke-linecap="butt"/>
<line x1="35.9" y1="309.18" x2="37.7" y2="309.18" stroke="#1c1c1c" stroke-width="0.75" stroke-linecap="butt"/>
<line x1="35.9" y1="304.21" x2="37.7" y2="304.21" stroke="#1c1c1c" stroke-width="0.75" stroke-linecap="butt"/>
<line x1="35.9" y1="300.14" x2="37.7" y2="300.14" stroke="#1c1c1c" stroke-width="0.75" stroke-linecap="butt"/>
<line x1="35.9" y1="296.7" x2="37.7" y2="296.7" stroke="#1c1c1c" stroke-width="0.75" stroke-linecap="butt"/>
<line x1="35.9" y1="293.73" x2="37.7" y2="293.73" stroke="#1c1c1c" stroke-width="0.75" stroke-linecap="butt"/>
<line x1="35.9" y1="291.1" x2="37.7" y2="291.1" stroke="#1c1c1c" stroke-width="0.75" stroke-linecap="butt"/>
<line x1="35.9" y1="273.29" x2="37.7" y2="273.29" stroke="#1c1c1c" stroke-width="0.75" stroke-linecap="butt"/>
<line x1="35.9" y1="264.25" x2="37.7" y2="264.25" stroke="#1c1c1c" stroke-width="0.75" stroke-linecap="butt"/>
<line x1="35.9" y1="257.83" x2="37.7" y2="257.83" stroke="#1c1c1c" stroke-width="0.75" stroke-linecap="butt"/>
<line x1="35.9" y1="252.86" x2="37.7" y2="252.86" stroke="#1c1c1c" stroke-width="0.75" stroke-linecap="butt"/>
<line x1="35.9" y1="248.79" x2="37.7" y2="248.79" stroke="#1c1c1c" stroke-width="0.75" stroke-linecap="butt"/>
<line x1="35.9" y1="245.35" x2="37.7" y2="245.35" stroke="#1c1c1c" stroke-width="0.75" stroke-linecap="butt"/>
<line x1="35.9" y1="242.38" x2="37.7" y2="242.38" stroke="#1c1c1c" stroke-width="0.75" stroke-linecap="butt"/>
<line x1="35.9" y1="239.75" x2="37.7" y2="239.75" stroke="#1c1c1c" stroke-width="0.75" stroke-linecap="butt"/>
<line x1="37.7" y1="340.1" x2="140.8" y2="340.1" stroke="#1c1c1c" stroke-width="1" stroke-linecap="butt"/>
<line x1="53.7" y1="340.1" x2="53.7" y2="342.9" stroke="#1c1c1c" stroke-width="1" stroke-linecap="butt"/>
<line x1="77.4" y1="340.1" x2="77.4" y2="342.9" stroke="#1c1c1c" stroke-width="1" stroke-linecap="butt"/>
<line x1="100.9" y1="340.1" x2="100.9" y2="342.9" stroke="#1c1c1c" stroke-width="1" stroke-linecap="butt"/>
<line x1="124.6" y1="340.1" x2="124.6" y2="342.9" stroke="#1c1c1c" stroke-width="1" stroke-linecap="butt"/>
<text x="0" y="0" font-size="7.9" text-anchor="end" textLength="28.0" lengthAdjust="spacingAndGlyphs" transform="translate(55.1,351.6) rotate(-45)">Pre ABX</text>
<text x="0" y="0" font-size="7.9" text-anchor="end" textLength="31.4" lengthAdjust="spacingAndGlyphs" transform="translate(78.8,351.6) rotate(-45)">Post ABX</text>
<text x="0" y="0" font-size="7.9" text-anchor="end" textLength="28.0" lengthAdjust="spacingAndGlyphs" transform="translate(102.3,351.6) rotate(-45)">Pre ABX</text>
<text x="0" y="0" font-size="7.9" text-anchor="end" textLength="31.4" lengthAdjust="spacingAndGlyphs" transform="translate(126,351.6) rotate(-45)">Post ABX</text>
<text x="0" y="0" font-size="8.4" textLength="39.9" lengthAdjust="spacingAndGlyphs" transform="translate(13.6,309.5) rotate(-90)">IL-1α (pg/ml)</text>
<line x1="53.7" y1="264.1" x2="77.4" y2="285.2" stroke="#c8102e" stroke-width="1.1" stroke-linecap="butt"/>
<line x1="53.7" y1="271.4" x2="77.4" y2="294.8" stroke="#c8102e" stroke-width="1.1" stroke-linecap="butt"/>
<line x1="53.7" y1="279.7" x2="77.4" y2="294.8" stroke="#c8102e" stroke-width="1.1" stroke-linecap="butt"/>
<line x1="53.7" y1="281.4" x2="77.4" y2="294.8" stroke="#c8102e" stroke-width="1.1" stroke-linecap="butt"/>
<circle cx="53.7" cy="264.1" r="2" fill="#c8102e"/>
<circle cx="53.7" cy="271.4" r="2" fill="#c8102e"/>
<circle cx="53.7" cy="279.7" r="2" fill="#c8102e"/>
<circle cx="53.7" cy="281.4" r="2" fill="#c8102e"/>
<circle cx="77.4" cy="285.2" r="2" fill="#c8102e"/>
<circle cx="77.4" cy="294.8" r="2" fill="#c8102e"/>
<circle cx="77.4" cy="294.8" r="2" fill="#c8102e"/>
<circle cx="77.4" cy="294.8" r="2" fill="#c8102e"/>
<line x1="100.8" y1="243.9" x2="124.6" y2="256.9" stroke="#0c4d8c" stroke-width="1.1" stroke-linecap="butt"/>
<line x1="100.8" y1="249.8" x2="124.6" y2="263.3" stroke="#0c4d8c" stroke-width="1.1" stroke-linecap="butt"/>
<line x1="100.8" y1="252.9" x2="124.6" y2="267.6" stroke="#0c4d8c" stroke-width="1.1" stroke-linecap="butt"/>
<line x1="100.8" y1="263.6" x2="124.6" y2="290.1" stroke="#0c4d8c" stroke-width="1.1" stroke-linecap="butt"/>
<circle cx="100.8" cy="243.9" r="2" fill="#0c4d8c"/>
<circle cx="100.8" cy="249.8" r="2" fill="#0c4d8c"/>
<circle cx="100.8" cy="252.9" r="2" fill="#0c4d8c"/>
<circle cx="100.8" cy="263.6" r="2" fill="#0c4d8c"/>
<circle cx="124.6" cy="256.9" r="2" fill="#0c4d8c"/>
<circle cx="124.6" cy="263.3" r="2" fill="#0c4d8c"/>
<circle cx="124.6" cy="267.6" r="2" fill="#0c4d8c"/>
<circle cx="124.6" cy="290.1" r="2" fill="#0c4d8c"/>
<line x1="54.3" y1="255" x2="77.1" y2="255" stroke="#4a4a4a" stroke-width="1" stroke-linecap="butt"/>
<line x1="54.3" y1="252.8" x2="54.3" y2="257.2" stroke="#4a4a4a" stroke-width="1" stroke-linecap="butt"/>
<line x1="77.1" y1="252.8" x2="77.1" y2="257.2" stroke="#4a4a4a" stroke-width="1" stroke-linecap="butt"/>
<line x1="103.3" y1="229.9" x2="126.3" y2="229.9" stroke="#4a4a4a" stroke-width="1" stroke-linecap="butt"/>
<line x1="103.3" y1="227.7" x2="103.3" y2="232.1" stroke="#4a4a4a" stroke-width="1" stroke-linecap="butt"/>
<line x1="126.3" y1="227.7" x2="126.3" y2="232.1" stroke="#4a4a4a" stroke-width="1" stroke-linecap="butt"/>
<circle cx="65.8" cy="249.8" r="1.05" fill="#202020"/>
<circle cx="113.7" cy="224.3" r="1.05" fill="#202020"/>
<circle cx="116.5" cy="224.3" r="1.05" fill="#202020"/>
<line x1="195.8" y1="235.19" x2="195.8" y2="340.1" stroke="#1c1c1c" stroke-width="1" stroke-linecap="butt"/>
<line x1="193" y1="339.6" x2="195.8" y2="339.6" stroke="#1c1c1c" stroke-width="1" stroke-linecap="butt"/>
<text x="186.8" y="343.3" font-size="7" text-anchor="end" textLength="8.2" lengthAdjust="spacingAndGlyphs">10</text>
<text x="186.95" y="340.6" font-size="5.6">0</text>
<line x1="193" y1="304.93" x2="195.8" y2="304.93" stroke="#1c1c1c" stroke-width="1" stroke-linecap="butt"/>
<text x="186.8" y="308.63" font-size="7" text-anchor="end" textLength="8.2" lengthAdjust="spacingAndGlyphs">10</text>
<text x="186.95" y="305.93" font-size="5.6">1</text>
<line x1="193" y1="270.26" x2="195.8" y2="270.26" stroke="#1c1c1c" stroke-width="1" stroke-linecap="butt"/>
<text x="186.8" y="273.96" font-size="7" text-anchor="end" textLength="8.2" lengthAdjust="spacingAndGlyphs">10</text>
<text x="186.95" y="271.26" font-size="5.6">2</text>
<line x1="193" y1="235.59" x2="195.8" y2="235.59" stroke="#1c1c1c" stroke-width="1" stroke-linecap="butt"/>
<text x="186.8" y="239.29" font-size="7" text-anchor="end" textLength="8.2" lengthAdjust="spacingAndGlyphs">10</text>
<text x="186.95" y="236.59" font-size="5.6">3</text>
<line x1="194" y1="329.16" x2="195.8" y2="329.16" stroke="#1c1c1c" stroke-width="0.75" stroke-linecap="butt"/>
<line x1="194" y1="323.06" x2="195.8" y2="323.06" stroke="#1c1c1c" stroke-width="0.75" stroke-linecap="butt"/>
<line x1="194" y1="318.73" x2="195.8" y2="318.73" stroke="#1c1c1c" stroke-width="0.75" stroke-linecap="butt"/>
<line x1="194" y1="315.37" x2="195.8" y2="315.37" stroke="#1c1c1c" stroke-width="0.75" stroke-linecap="butt"/>
<line x1="194" y1="312.62" x2="195.8" y2="312.62" stroke="#1c1c1c" stroke-width="0.75" stroke-linecap="butt"/>
<line x1="194" y1="310.3" x2="195.8" y2="310.3" stroke="#1c1c1c" stroke-width="0.75" stroke-linecap="butt"/>
<line x1="194" y1="308.29" x2="195.8" y2="308.29" stroke="#1c1c1c" stroke-width="0.75" stroke-linecap="butt"/>
<line x1="194" y1="306.52" x2="195.8" y2="306.52" stroke="#1c1c1c" stroke-width="0.75" stroke-linecap="butt"/>
<line x1="194" y1="294.49" x2="195.8" y2="294.49" stroke="#1c1c1c" stroke-width="0.75" stroke-linecap="butt"/>
<line x1="194" y1="288.39" x2="195.8" y2="288.39" stroke="#1c1c1c" stroke-width="0.75" stroke-linecap="butt"/>
<line x1="194" y1="284.06" x2="195.8" y2="284.06" stroke="#1c1c1c" stroke-width="0.75" stroke-linecap="butt"/>
<line x1="194" y1="280.7" x2="195.8" y2="280.7" stroke="#1c1c1c" stroke-width="0.75" stroke-linecap="butt"/>
<line x1="194" y1="277.95" x2="195.8" y2="277.95" stroke="#1c1c1c" stroke-width="0.75" stroke-linecap="butt"/>
<line x1="194" y1="275.63" x2="195.8" y2="275.63" stroke="#1c1c1c" stroke-width="0.75" stroke-linecap="butt"/>
<line x1="194" y1="273.62" x2="195.8" y2="273.62" stroke="#1c1c1c" stroke-width="0.75" stroke-linecap="butt"/>
<line x1="194" y1="271.85" x2="195.8" y2="271.85" stroke="#1c1c1c" stroke-width="0.75" stroke-linecap="butt"/>
<line x1="194" y1="259.82" x2="195.8" y2="259.82" stroke="#1c1c1c" stroke-width="0.75" stroke-linecap="butt"/>
<line x1="194" y1="253.72" x2="195.8" y2="253.72" stroke="#1c1c1c" stroke-width="0.75" stroke-linecap="butt"/>
<line x1="194" y1="249.39" x2="195.8" y2="249.39" stroke="#1c1c1c" stroke-width="0.75" stroke-linecap="butt"/>
<line x1="194" y1="246.03" x2="195.8" y2="246.03" stroke="#1c1c1c" stroke-width="0.75" stroke-linecap="butt"/>
<line x1="194" y1="243.28" x2="195.8" y2="243.28" stroke="#1c1c1c" stroke-width="0.75" stroke-linecap="butt"/>
<line x1="194" y1="240.96" x2="195.8" y2="240.96" stroke="#1c1c1c" stroke-width="0.75" stroke-linecap="butt"/>
<line x1="194" y1="238.95" x2="195.8" y2="238.95" stroke="#1c1c1c" stroke-width="0.75" stroke-linecap="butt"/>
<line x1="194" y1="237.18" x2="195.8" y2="237.18" stroke="#1c1c1c" stroke-width="0.75" stroke-linecap="butt"/>
<line x1="195.6" y1="339.6" x2="300.3" y2="339.6" stroke="#1c1c1c" stroke-width="1" stroke-linecap="butt"/>
<line x1="212.3" y1="339.6" x2="212.3" y2="342.4" stroke="#1c1c1c" stroke-width="1" stroke-linecap="butt"/>
<line x1="236.3" y1="339.6" x2="236.3" y2="342.4" stroke="#1c1c1c" stroke-width="1" stroke-linecap="butt"/>
<line x1="260.4" y1="339.6" x2="260.4" y2="342.4" stroke="#1c1c1c" stroke-width="1" stroke-linecap="butt"/>
<line x1="284.5" y1="339.6" x2="284.5" y2="342.4" stroke="#1c1c1c" stroke-width="1" stroke-linecap="butt"/>
<text x="0" y="0" font-size="7.9" text-anchor="end" textLength="28.0" lengthAdjust="spacingAndGlyphs" transform="translate(213.7,351.1) rotate(-45)">Pre ABX</text>
<text x="0" y="0" font-size="7.9" text-anchor="end" textLength="31.4" lengthAdjust="spacingAndGlyphs" transform="translate(237.7,351.1) rotate(-45)">Post ABX</text>
<text x="0" y="0" font-size="7.9" text-anchor="end" textLength="28.0" lengthAdjust="spacingAndGlyphs" transform="translate(261.8,351.1) rotate(-45)">Pre ABX</text>
<text x="0" y="0" font-size="7.9" text-anchor="end" textLength="31.4" lengthAdjust="spacingAndGlyphs" transform="translate(285.9,351.1) rotate(-45)">Post ABX</text>
<text x="0" y="0" font-size="8.4" textLength="34.1" lengthAdjust="spacingAndGlyphs" transform="translate(171.7,304.9) rotate(-90)">IL-6 (pg/ml)</text>
<line x1="212.2" y1="310.3" x2="236.2" y2="319.9" stroke="#c8102e" stroke-width="1" stroke-linecap="butt"/>
<line x1="212.2" y1="312" x2="236.2" y2="321.3" stroke="#c8102e" stroke-width="1" stroke-linecap="butt"/>
<line x1="212.2" y1="313.1" x2="236.2" y2="323.3" stroke="#c8102e" stroke-width="1" stroke-linecap="butt"/>
<line x1="212.2" y1="319.3" x2="236.2" y2="329.2" stroke="#c8102e" stroke-width="1" stroke-linecap="butt"/>
<circle cx="212.2" cy="310.3" r="2" fill="#c8102e"/>
<circle cx="212.2" cy="312" r="2" fill="#c8102e"/>
<circle cx="212.2" cy="313.1" r="2" fill="#c8102e"/>
<circle cx="212.2" cy="319.3" r="2" fill="#c8102e"/>
<circle cx="236.2" cy="319.9" r="2" fill="#c8102e"/>
<circle cx="236.2" cy="321.3" r="2" fill="#c8102e"/>
<circle cx="236.2" cy="323.3" r="2" fill="#c8102e"/>
<circle cx="236.2" cy="329.2" r="2" fill="#c8102e"/>
<line x1="260.2" y1="267.5" x2="284.3" y2="274.3" stroke="#0c4d8c" stroke-width="1.1" stroke-linecap="butt"/>
<line x1="260.2" y1="270.8" x2="284.3" y2="289.1" stroke="#0c4d8c" stroke-width="1.1" stroke-linecap="butt"/>
<line x1="260.2" y1="282.8" x2="284.3" y2="300.9" stroke="#0c4d8c" stroke-width="1.1" stroke-linecap="butt"/>
<circle cx="260.2" cy="267.5" r="2" fill="#0c4d8c"/>
<circle cx="260.2" cy="270.8" r="2" fill="#0c4d8c"/>
<circle cx="260.2" cy="282.8" r="2" fill="#0c4d8c"/>
<circle cx="284.3" cy="274.3" r="2" fill="#0c4d8c"/>
<circle cx="284.3" cy="289.1" r="2" fill="#0c4d8c"/>
<circle cx="284.3" cy="300.9" r="2" fill="#0c4d8c"/>
<line x1="212.6" y1="295.4" x2="236.2" y2="295.4" stroke="#4a4a4a" stroke-width="1" stroke-linecap="butt"/>
<line x1="212.6" y1="293.2" x2="212.6" y2="297.6" stroke="#4a4a4a" stroke-width="1" stroke-linecap="butt"/>
<line x1="236.2" y1="293.2" x2="236.2" y2="297.6" stroke="#4a4a4a" stroke-width="1" stroke-linecap="butt"/>
<line x1="262.7" y1="256.1" x2="286" y2="256.1" stroke="#4a4a4a" stroke-width="1" stroke-linecap="butt"/>
<line x1="262.7" y1="253.9" x2="262.7" y2="258.3" stroke="#4a4a4a" stroke-width="1" stroke-linecap="butt"/>
<line x1="286" y1="253.9" x2="286" y2="258.3" stroke="#4a4a4a" stroke-width="1" stroke-linecap="butt"/>
<circle cx="223" cy="290.1" r="1.05" fill="#202020"/>
<circle cx="225.8" cy="290.1" r="1.05" fill="#202020"/>
<circle cx="274.2" cy="251.5" r="1.05" fill="#202020"/>
<line x1="350.4" y1="236.72" x2="350.4" y2="340.5" stroke="#1c1c1c" stroke-width="1" stroke-linecap="butt"/>
<line x1="347.6" y1="340" x2="350.4" y2="340" stroke="#1c1c1c" stroke-width="1" stroke-linecap="butt"/>
<text x="341.6" y="343.7" font-size="7" text-anchor="end" textLength="8.1" lengthAdjust="spacingAndGlyphs">10</text>
<text x="341.75" y="341" font-size="5.6">0</text>
<line x1="347.6" y1="314.28" x2="350.4" y2="314.28" stroke="#1c1c1c" stroke-width="1" stroke-linecap="butt"/>
<text x="341.6" y="317.98" font-size="7" text-anchor="end" textLength="8.1" lengthAdjust="spacingAndGlyphs">10</text>
<text x="341.75" y="315.28" font-size="5.6">1</text>
<line x1="347.6" y1="288.56" x2="350.4" y2="288.56" stroke="#1c1c1c" stroke-width="1" stroke-linecap="butt"/>
<text x="341.6" y="292.26" font-size="7" text-anchor="end" textLength="8.1" lengthAdjust="spacingAndGlyphs">10</text>
<text x="341.75" y="289.56" font-size="5.6">2</text>
<line x1="347.6" y1="262.84" x2="350.4" y2="262.84" stroke="#1c1c1c" stroke-width="1" stroke-linecap="butt"/>
<text x="341.6" y="266.54" font-size="7" text-anchor="end" textLength="8.1" lengthAdjust="spacingAndGlyphs">10</text>
<text x="341.75" y="263.84" font-size="5.6">3</text>
<line x1="347.6" y1="237.12" x2="350.4" y2="237.12" stroke="#1c1c1c" stroke-width="1" stroke-linecap="butt"/>
<text x="341.6" y="240.82" font-size="7" text-anchor="end" textLength="8.1" lengthAdjust="spacingAndGlyphs">10</text>
<text x="341.75" y="238.12" font-size="5.6">4</text>
<line x1="348.6" y1="332.26" x2="350.4" y2="332.26" stroke="#1c1c1c" stroke-width="0.75" stroke-linecap="butt"/>
<line x1="348.6" y1="327.73" x2="350.4" y2="327.73" stroke="#1c1c1c" stroke-width="0.75" stroke-linecap="butt"/>
<line x1="348.6" y1="324.52" x2="350.4" y2="324.52" stroke="#1c1c1c" stroke-width="0.75" stroke-linecap="butt"/>
<line x1="348.6" y1="322.02" x2="350.4" y2="322.02" stroke="#1c1c1c" stroke-width="0.75" stroke-linecap="butt"/>
<line x1="348.6" y1="319.99" x2="350.4" y2="319.99" stroke="#1c1c1c" stroke-width="0.75" stroke-linecap="butt"/>
<line x1="348.6" y1="318.26" x2="350.4" y2="318.26" stroke="#1c1c1c" stroke-width="0.75" stroke-linecap="butt"/>
<line x1="348.6" y1="316.77" x2="350.4" y2="316.77" stroke="#1c1c1c" stroke-width="0.75" stroke-linecap="butt"/>
<line x1="348.6" y1="315.46" x2="350.4" y2="315.46" stroke="#1c1c1c" stroke-width="0.75" stroke-linecap="butt"/>
<line x1="348.6" y1="306.54" x2="350.4" y2="306.54" stroke="#1c1c1c" stroke-width="0.75" stroke-linecap="butt"/>
<line x1="348.6" y1="302.01" x2="350.4" y2="302.01" stroke="#1c1c1c" stroke-width="0.75" stroke-linecap="butt"/>
<line x1="348.6" y1="298.8" x2="350.4" y2="298.8" stroke="#1c1c1c" stroke-width="0.75" stroke-linecap="butt"/>
<line x1="348.6" y1="296.3" x2="350.4" y2="296.3" stroke="#1c1c1c" stroke-width="0.75" stroke-linecap="butt"/>
<line x1="348.6" y1="294.27" x2="350.4" y2="294.27" stroke="#1c1c1c" stroke-width="0.75" stroke-linecap="butt"/>
<line x1="348.6" y1="292.54" x2="350.4" y2="292.54" stroke="#1c1c1c" stroke-width="0.75" stroke-linecap="butt"/>
<line x1="348.6" y1="291.05" x2="350.4" y2="291.05" stroke="#1c1c1c" stroke-width="0.75" stroke-linecap="butt"/>
<line x1="348.6" y1="289.74" x2="350.4" y2="289.74" stroke="#1c1c1c" stroke-width="0.75" stroke-linecap="butt"/>
<line x1="348.6" y1="280.82" x2="350.4" y2="280.82" stroke="#1c1c1c" stroke-width="0.75" stroke-linecap="butt"/>
<line x1="348.6" y1="276.29" x2="350.4" y2="276.29" stroke="#1c1c1c" stroke-width="0.75" stroke-linecap="butt"/>
<line x1="348.6" y1="273.08" x2="350.4" y2="273.08" stroke="#1c1c1c" stroke-width="0.75" stroke-linecap="butt"/>
<line x1="348.6" y1="270.58" x2="350.4" y2="270.58" stroke="#1c1c1c" stroke-width="0.75" stroke-linecap="butt"/>
<line x1="348.6" y1="268.55" x2="350.4" y2="268.55" stroke="#1c1c1c" stroke-width="0.75" stroke-linecap="butt"/>
<line x1="348.6" y1="266.82" x2="350.4" y2="266.82" stroke="#1c1c1c" stroke-width="0.75" stroke-linecap="butt"/>
<line x1="348.6" y1="265.33" x2="350.4" y2="265.33" stroke="#1c1c1c" stroke-width="0.75" stroke-linecap="butt"/>
<line x1="348.6" y1="264.02" x2="350.4" y2="264.02" stroke="#1c1c1c" stroke-width="0.75" stroke-linecap="butt"/>
<line x1="348.6" y1="255.1" x2="350.4" y2="255.1" stroke="#1c1c1c" stroke-width="0.75" stroke-linecap="butt"/>
<line x1="348.6" y1="250.57" x2="350.4" y2="250.57" stroke="#1c1c1c" stroke-width="0.75" stroke-linecap="butt"/>
<line x1="348.6" y1="247.36" x2="350.4" y2="247.36" stroke="#1c1c1c" stroke-width="0.75" stroke-linecap="butt"/>
<line x1="348.6" y1="244.86" x2="350.4" y2="244.86" stroke="#1c1c1c" stroke-width="0.75" stroke-linecap="butt"/>
<line x1="348.6" y1="242.83" x2="350.4" y2="242.83" stroke="#1c1c1c" stroke-width="0.75" stroke-linecap="butt"/>
<line x1="348.6" y1="241.1" x2="350.4" y2="241.1" stroke="#1c1c1c" stroke-width="0.75" stroke-linecap="butt"/>
<line x1="348.6" y1="239.61" x2="350.4" y2="239.61" stroke="#1c1c1c" stroke-width="0.75" stroke-linecap="butt"/>
<line x1="348.6" y1="238.3" x2="350.4" y2="238.3" stroke="#1c1c1c" stroke-width="0.75" stroke-linecap="butt"/>
<line x1="350.6" y1="340" x2="453.8" y2="340" stroke="#1c1c1c" stroke-width="1" stroke-linecap="butt"/>
<line x1="366.4" y1="340" x2="366.4" y2="342.8" stroke="#1c1c1c" stroke-width="1" stroke-linecap="butt"/>
<line x1="390.3" y1="340" x2="390.3" y2="342.8" stroke="#1c1c1c" stroke-width="1" stroke-linecap="butt"/>
<line x1="414.2" y1="340" x2="414.2" y2="342.8" stroke="#1c1c1c" stroke-width="1" stroke-linecap="butt"/>
<line x1="438" y1="340" x2="438" y2="342.8" stroke="#1c1c1c" stroke-width="1" stroke-linecap="butt"/>
<text x="0" y="0" font-size="7.9" text-anchor="end" textLength="28.0" lengthAdjust="spacingAndGlyphs" transform="translate(367.8,351.5) rotate(-45)">Pre ABX</text>
<text x="0" y="0" font-size="7.9" text-anchor="end" textLength="31.4" lengthAdjust="spacingAndGlyphs" transform="translate(391.7,351.5) rotate(-45)">Post ABX</text>
<text x="0" y="0" font-size="7.9" text-anchor="end" textLength="28.0" lengthAdjust="spacingAndGlyphs" transform="translate(415.6,351.5) rotate(-45)">Pre ABX</text>
<text x="0" y="0" font-size="7.9" text-anchor="end" textLength="31.4" lengthAdjust="spacingAndGlyphs" transform="translate(439.4,351.5) rotate(-45)">Post ABX</text>
<text x="0" y="0" font-size="8.4" textLength="41" lengthAdjust="spacingAndGlyphs" transform="translate(327.4,308.9) rotate(-90)">G-CSF (pg/ml)</text>
<line x1="366.3" y1="276.7" x2="390.4" y2="286" stroke="#c8102e" stroke-width="1" stroke-linecap="butt"/>
<line x1="366.3" y1="278.3" x2="390.4" y2="288.7" stroke="#c8102e" stroke-width="1" stroke-linecap="butt"/>
<line x1="366.3" y1="279.6" x2="390.4" y2="292.7" stroke="#c8102e" stroke-width="1" stroke-linecap="butt"/>
<line x1="366.3" y1="281.5" x2="390.4" y2="294.6" stroke="#c8102e" stroke-width="1" stroke-linecap="butt"/>
<line x1="366.3" y1="283.5" x2="390.4" y2="296" stroke="#c8102e" stroke-width="1" stroke-linecap="butt"/>
<circle cx="366.3" cy="276.7" r="2" fill="#c8102e"/>
<circle cx="366.3" cy="278.3" r="2" fill="#c8102e"/>
<circle cx="366.3" cy="279.6" r="2" fill="#c8102e"/>
<circle cx="366.3" cy="281.5" r="2" fill="#c8102e"/>
<circle cx="366.3" cy="283.5" r="2" fill="#c8102e"/>
<circle cx="390.4" cy="286" r="2" fill="#c8102e"/>
<circle cx="390.4" cy="288.7" r="2" fill="#c8102e"/>
<circle cx="390.4" cy="292.7" r="2" fill="#c8102e"/>
<circle cx="390.4" cy="294.6" r="2" fill="#c8102e"/>
<circle cx="390.4" cy="296" r="2" fill="#c8102e"/>
<line x1="414.2" y1="240.8" x2="437.9" y2="247.3" stroke="#0c4d8c" stroke-width="1.1" stroke-linecap="butt"/>
<line x1="414.2" y1="243.1" x2="437.9" y2="260" stroke="#0c4d8c" stroke-width="1.1" stroke-linecap="butt"/>
<line x1="414.2" y1="245.4" x2="437.9" y2="260" stroke="#0c4d8c" stroke-width="1.1" stroke-linecap="butt"/>
<line x1="414.2" y1="256.5" x2="437.9" y2="270.4" stroke="#0c4d8c" stroke-width="1.1" stroke-linecap="butt"/>
<circle cx="414.2" cy="240.8" r="2" fill="#0c4d8c"/>
<circle cx="414.2" cy="243.1" r="2" fill="#0c4d8c"/>
<circle cx="414.2" cy="245.4" r="2" fill="#0c4d8c"/>
<circle cx="414.2" cy="256.5" r="2" fill="#0c4d8c"/>
<circle cx="437.9" cy="247.3" r="2" fill="#0c4d8c"/>
<circle cx="437.9" cy="260" r="2" fill="#0c4d8c"/>
<circle cx="437.9" cy="260" r="2" fill="#0c4d8c"/>
<circle cx="437.9" cy="270.4" r="2" fill="#0c4d8c"/>
<line x1="367.1" y1="264.8" x2="390.2" y2="264.8" stroke="#4a4a4a" stroke-width="1" stroke-linecap="butt"/>
<line x1="367.1" y1="262.6" x2="367.1" y2="267" stroke="#4a4a4a" stroke-width="1" stroke-linecap="butt"/>
<line x1="390.2" y1="262.6" x2="390.2" y2="267" stroke="#4a4a4a" stroke-width="1" stroke-linecap="butt"/>
<line x1="416.7" y1="229" x2="439.4" y2="229" stroke="#4a4a4a" stroke-width="1" stroke-linecap="butt"/>
<line x1="416.7" y1="226.8" x2="416.7" y2="231.2" stroke="#4a4a4a" stroke-width="1" stroke-linecap="butt"/>
<line x1="439.4" y1="226.8" x2="439.4" y2="231.2" stroke="#4a4a4a" stroke-width="1" stroke-linecap="butt"/>
<circle cx="375.9" cy="260" r="1.05" fill="#202020"/>
<circle cx="378.7" cy="260" r="1.05" fill="#202020"/>
<circle cx="381.5" cy="260" r="1.05" fill="#202020"/>
<circle cx="427.9" cy="223.8" r="1.05" fill="#202020"/>
<circle cx="454.8" cy="243.3" r="2.2" fill="#c8102e"/>
<circle cx="454.8" cy="253.8" r="2.2" fill="#0c4d8c"/>
<text x="460.4" y="245.8" font-size="7.3" font-style="italic" textLength="52.6" lengthAdjust="spacingAndGlyphs" fill="#444" stroke="#444">Cdkn2a<tspan font-size="5.3" dy="-3">−/−</tspan><tspan dy="3"> Il10</tspan><tspan font-size="5.3" dy="-3">+/+</tspan></text>
<text x="460.4" y="256.6" font-size="7.3" font-style="italic" textLength="52.6" lengthAdjust="spacingAndGlyphs" fill="#444" stroke="#444">Cdkn2a<tspan font-size="5.3" dy="-3">−/−</tspan><tspan dy="3"> Il10</tspan><tspan font-size="5.3" dy="-3">−/−</tspan></text>
<line x1="37.7" y1="400.35" x2="37.7" y2="514.8" stroke="#333" stroke-width="1.35" stroke-linecap="butt"/>
<line x1="34.9" y1="514.3" x2="37.7" y2="514.3" stroke="#1c1c1c" stroke-width="1" stroke-linecap="butt"/>
<text x="31.5" y="516.75" font-size="6.9" text-anchor="end" textLength="3.95" lengthAdjust="spacingAndGlyphs">0</text>
<line x1="34.9" y1="491.61" x2="37.7" y2="491.61" stroke="#1c1c1c" stroke-width="1" stroke-linecap="butt"/>
<text x="31.5" y="494.06" font-size="6.9" text-anchor="end" textLength="7.9" lengthAdjust="spacingAndGlyphs">20</text>
<line x1="34.9" y1="468.92" x2="37.7" y2="468.92" stroke="#1c1c1c" stroke-width="1" stroke-linecap="butt"/>
<text x="31.5" y="471.37" font-size="6.9" text-anchor="end" textLength="7.9" lengthAdjust="spacingAndGlyphs">40</text>
<line x1="34.9" y1="446.23" x2="37.7" y2="446.23" stroke="#1c1c1c" stroke-width="1" stroke-linecap="butt"/>
<text x="31.5" y="448.68" font-size="6.9" text-anchor="end" textLength="7.9" lengthAdjust="spacingAndGlyphs">60</text>
<line x1="34.9" y1="423.54" x2="37.7" y2="423.54" stroke="#1c1c1c" stroke-width="1" stroke-linecap="butt"/>
<text x="31.5" y="425.99" font-size="6.9" text-anchor="end" textLength="7.9" lengthAdjust="spacingAndGlyphs">80</text>
<line x1="34.9" y1="400.85" x2="37.7" y2="400.85" stroke="#1c1c1c" stroke-width="1" stroke-linecap="butt"/>
<text x="31.5" y="403.3" font-size="6.9" text-anchor="end" textLength="11.85" lengthAdjust="spacingAndGlyphs">100</text>
<line x1="34.9" y1="514.3" x2="151.8" y2="514.3" stroke="#1c1c1c" stroke-width="1" stroke-linecap="butt"/>
<line x1="55.5" y1="514.3" x2="55.5" y2="516.7" stroke="#1c1c1c" stroke-width="1" stroke-linecap="butt"/>
<line x1="81.75" y1="514.3" x2="81.75" y2="516.7" stroke="#1c1c1c" stroke-width="1" stroke-linecap="butt"/>
<line x1="108" y1="514.3" x2="108" y2="516.7" stroke="#1c1c1c" stroke-width="1" stroke-linecap="butt"/>
<line x1="134.5" y1="514.3" x2="134.5" y2="516.7" stroke="#1c1c1c" stroke-width="1" stroke-linecap="butt"/>
<text x="7" y="525.3" font-size="8" textLength="34.8" lengthAdjust="spacingAndGlyphs">Antibiotics</text>
<line x1="53.3" y1="522.6" x2="57.7" y2="522.6" stroke="#2a2a2a" stroke-width="0.85" stroke-linecap="butt"/>
<text x="81.75" y="525.3" font-size="8" text-anchor="middle">+</text>
<line x1="105.8" y1="522.6" x2="110.2" y2="522.6" stroke="#2a2a2a" stroke-width="0.85" stroke-linecap="butt"/>
<text x="134.5" y="525.3" font-size="8" text-anchor="middle">+</text>
<text x="0" y="0" font-size="8.2" textLength="45.7" lengthAdjust="spacingAndGlyphs" transform="translate(14.6,480.2) rotate(-90)">% CD11b<tspan font-size="5.2" dy="-3">+</tspan><tspan dy="3"> cells</tspan></text>
<line x1="49.3" y1="464.4" x2="64.2" y2="464.4" stroke="#222" stroke-width="1.3" stroke-linecap="butt"/>
<line x1="75" y1="470.6" x2="88.3" y2="470.6" stroke="#222" stroke-width="1.3" stroke-linecap="butt"/>
<line x1="99.3" y1="425.6" x2="117" y2="425.6" stroke="#222" stroke-width="1.3" stroke-linecap="butt"/>
<line x1="125.8" y1="438.5" x2="143.2" y2="438.5" stroke="#222" stroke-width="1.3" stroke-linecap="butt"/>
<polyline points="57.9,451.1 57.9,397.4 107,397.4 107,407.8" fill="none" stroke="#1c1c1c" stroke-width="0.9"/>
<polyline points="108.8,407.8 108.8,397.4 135.9,397.4 135.9,418.2" fill="none" stroke="#1c1c1c" stroke-width="0.9"/>
<circle cx="78.3" cy="393.8" r="1.05" fill="#202020"/>
<circle cx="81.1" cy="393.8" r="1.05" fill="#202020"/>
<circle cx="83.9" cy="393.8" r="1.05" fill="#202020"/>
<circle cx="86.7" cy="393.8" r="1.05" fill="#202020"/>
<circle cx="122.7" cy="393.6" r="1.05" fill="#202020"/>
<line x1="196" y1="401.3" x2="196" y2="514.9" stroke="#333" stroke-width="1.35" stroke-linecap="butt"/>
<line x1="193.2" y1="514.4" x2="196" y2="514.4" stroke="#1c1c1c" stroke-width="1" stroke-linecap="butt"/>
<text x="190.3" y="516.85" font-size="6.9" text-anchor="end" textLength="3.95" lengthAdjust="spacingAndGlyphs">0</text>
<line x1="193.2" y1="486.25" x2="196" y2="486.25" stroke="#1c1c1c" stroke-width="1" stroke-linecap="butt"/>
<text x="190.3" y="488.7" font-size="6.9" text-anchor="end" textLength="3.95" lengthAdjust="spacingAndGlyphs">5</text>
<line x1="193.2" y1="458.1" x2="196" y2="458.1" stroke="#1c1c1c" stroke-width="1" stroke-linecap="butt"/>
<text x="190.3" y="460.55" font-size="6.9" text-anchor="end" textLength="7.9" lengthAdjust="spacingAndGlyphs">10</text>
<line x1="193.2" y1="429.95" x2="196" y2="429.95" stroke="#1c1c1c" stroke-width="1" stroke-linecap="butt"/>
<text x="190.3" y="432.4" font-size="6.9" text-anchor="end" textLength="7.9" lengthAdjust="spacingAndGlyphs">15</text>
<line x1="193.2" y1="401.8" x2="196" y2="401.8" stroke="#1c1c1c" stroke-width="1" stroke-linecap="butt"/>
<text x="190.3" y="404.25" font-size="6.9" text-anchor="end" textLength="7.9" lengthAdjust="spacingAndGlyphs">20</text>
<line x1="193.2" y1="514.4" x2="310.1" y2="514.4" stroke="#1c1c1c" stroke-width="1" stroke-linecap="butt"/>
<line x1="213.8" y1="514.4" x2="213.8" y2="516.8" stroke="#1c1c1c" stroke-width="1" stroke-linecap="butt"/>
<line x1="240" y1="514.4" x2="240" y2="516.8" stroke="#1c1c1c" stroke-width="1" stroke-linecap="butt"/>
<line x1="266.1" y1="514.4" x2="266.1" y2="516.8" stroke="#1c1c1c" stroke-width="1" stroke-linecap="butt"/>
<line x1="292.5" y1="514.4" x2="292.5" y2="516.8" stroke="#1c1c1c" stroke-width="1" stroke-linecap="butt"/>
<text x="170.6" y="525.3" font-size="8" textLength="34.8" lengthAdjust="spacingAndGlyphs">Antibiotics</text>
<line x1="211.6" y1="522.6" x2="216" y2="522.6" stroke="#2a2a2a" stroke-width="0.85" stroke-linecap="butt"/>
<text x="240" y="525.3" font-size="8" text-anchor="middle">+</text>
<line x1="263.9" y1="522.6" x2="268.3" y2="522.6" stroke="#2a2a2a" stroke-width="0.85" stroke-linecap="butt"/>
<text x="292.5" y="525.3" font-size="8" text-anchor="middle">+</text>
<text x="0" y="0" font-size="7" textLength="61.1" lengthAdjust="spacingAndGlyphs" transform="translate(173.4,488) rotate(-90)">% CD19<tspan font-size="4.6" dy="-2.6">+</tspan><tspan dy="2.6"> B220</tspan><tspan font-size="4.6" dy="-2.6">+</tspan><tspan dy="2.6"> cells</tspan></text>
<line x1="205" y1="444.2" x2="222.3" y2="444.2" stroke="#222" stroke-width="1.3" stroke-linecap="butt"/>
<line x1="231.3" y1="445.9" x2="248.6" y2="445.9" stroke="#222" stroke-width="1.3" stroke-linecap="butt"/>
<line x1="257.3" y1="504.6" x2="274.9" y2="504.6" stroke="#222" stroke-width="1.3" stroke-linecap="butt"/>
<line x1="284.1" y1="493.2" x2="296.9" y2="493.2" stroke="#222" stroke-width="1.3" stroke-linecap="butt"/>
<polyline points="214.2,411.8 214.2,397.6 265.2,397.6 265.2,491.1" fill="none" stroke="#1c1c1c" stroke-width="0.9"/>
<polyline points="269.1,491.1 269.1,467.8 293.8,467.8 293.8,477.9" fill="none" stroke="#1c1c1c" stroke-width="0.9"/>
<circle cx="238.7" cy="393.7" r="1.05" fill="#202020"/>
<circle cx="241.5" cy="393.7" r="1.05" fill="#202020"/>
<circle cx="280" cy="464.3" r="1.05" fill="#202020"/>
<circle cx="282.8" cy="464.3" r="1.05" fill="#202020"/>
<line x1="351" y1="401" x2="351" y2="515" stroke="#333" stroke-width="1.35" stroke-linecap="butt"/>
<line x1="348.2" y1="514.5" x2="351" y2="514.5" stroke="#1c1c1c" stroke-width="1" stroke-linecap="butt"/>
<text x="345.3" y="516.95" font-size="6.9" text-anchor="end" textLength="3.95" lengthAdjust="spacingAndGlyphs">0</text>
<line x1="348.2" y1="476.83" x2="351" y2="476.83" stroke="#1c1c1c" stroke-width="1" stroke-linecap="butt"/>
<text x="345.3" y="479.28" font-size="6.9" text-anchor="end" textLength="7.9" lengthAdjust="spacingAndGlyphs">20</text>
<line x1="348.2" y1="439.17" x2="351" y2="439.17" stroke="#1c1c1c" stroke-width="1" stroke-linecap="butt"/>
<text x="345.3" y="441.62" font-size="6.9" text-anchor="end" textLength="7.9" lengthAdjust="spacingAndGlyphs">40</text>
<line x1="348.2" y1="401.5" x2="351" y2="401.5" stroke="#1c1c1c" stroke-width="1" stroke-linecap="butt"/>
<text x="345.3" y="403.95" font-size="6.9" text-anchor="end" textLength="7.9" lengthAdjust="spacingAndGlyphs">60</text>
<line x1="348.2" y1="514.5" x2="463.8" y2="514.5" stroke="#1c1c1c" stroke-width="1" stroke-linecap="butt"/>
<line x1="367.8" y1="514.5" x2="367.8" y2="516.9" stroke="#1c1c1c" stroke-width="1" stroke-linecap="butt"/>
<line x1="394" y1="514.5" x2="394" y2="516.9" stroke="#1c1c1c" stroke-width="1" stroke-linecap="butt"/>
<line x1="420.9" y1="514.5" x2="420.9" y2="516.9" stroke="#1c1c1c" stroke-width="1" stroke-linecap="butt"/>
<line x1="447" y1="514.5" x2="447" y2="516.9" stroke="#1c1c1c" stroke-width="1" stroke-linecap="butt"/>
<text x="324.8" y="525.3" font-size="8" textLength="34.8" lengthAdjust="spacingAndGlyphs">Antibiotics</text>
<line x1="365.6" y1="522.6" x2="370" y2="522.6" stroke="#2a2a2a" stroke-width="0.85" stroke-linecap="butt"/>
<text x="394" y="525.3" font-size="8" text-anchor="middle">+</text>
<line x1="418.7" y1="522.6" x2="423.1" y2="522.6" stroke="#2a2a2a" stroke-width="0.85" stroke-linecap="butt"/>
<text x="447" y="525.3" font-size="8" text-anchor="middle">+</text>
<text x="0" y="0" font-size="7" textLength="94.4" lengthAdjust="spacingAndGlyphs" transform="translate(328.9,505.6) rotate(-90)">% γH2AX<tspan font-size="4.6" dy="-2.6">+</tspan><tspan dy="2.6"> of B220</tspan><tspan font-size="4.6" dy="-2.6">+</tspan><tspan dy="2.6"> CD19</tspan><tspan font-size="4.6" dy="-2.6">+</tspan><tspan dy="2.6"> cells</tspan></text>
<line x1="359.8" y1="486.2" x2="376.2" y2="486.2" stroke="#222" stroke-width="1.3" stroke-linecap="butt"/>
<line x1="386" y1="489.8" x2="403.2" y2="489.8" stroke="#222" stroke-width="1.3" stroke-linecap="butt"/>
<line x1="412.3" y1="460.7" x2="429.9" y2="460.7" stroke="#222" stroke-width="1.3" stroke-linecap="butt"/>
<line x1="438.4" y1="482.7" x2="455.7" y2="482.7" stroke="#222" stroke-width="1.3" stroke-linecap="butt"/>
<polyline points="368.3,458.6 368.3,397.8 418.9,397.8 418.9,403.9" fill="none" stroke="#1c1c1c" stroke-width="0.9"/>
<polyline points="422.1,403.9 422.1,397.8 447.2,397.8 447.2,463.2" fill="none" stroke="#1c1c1c" stroke-width="0.9"/>
<circle cx="392.3" cy="393.7" r="1.05" fill="#202020"/>
<circle cx="395.1" cy="393.7" r="1.05" fill="#202020"/>
<circle cx="433.4" cy="393.7" r="1.05" fill="#202020"/>
<circle cx="436.2" cy="393.7" r="1.05" fill="#202020"/>
<circle cx="49" cy="459.5" r="2.2" fill="#c8102e"/>
<circle cx="49" cy="464.5" r="2.2" fill="#c8102e"/>
<circle cx="61.6" cy="462.7" r="2.2" fill="#c8102e"/>
<circle cx="61.6" cy="474.8" r="2.2" fill="#c8102e"/>
<circle cx="49" cy="478" r="2.2" fill="#c8102e"/>
<circle cx="75" cy="470.6" r="2.2" fill="#c8102e"/>
<circle cx="81.75" cy="464.5" r="2.2" fill="#c8102e"/>
<circle cx="88.3" cy="471" r="2.2" fill="#c8102e"/>
<circle cx="81.75" cy="477.1" r="2.2" fill="#c8102e"/>
<circle cx="101.7" cy="419.2" r="2.2" fill="#0c4d8c"/>
<circle cx="108.1" cy="421.5" r="2.2" fill="#0c4d8c"/>
<circle cx="114.5" cy="421.2" r="2.2" fill="#0c4d8c"/>
<circle cx="101.7" cy="424.3" r="2.2" fill="#0c4d8c"/>
<circle cx="108.1" cy="427.4" r="2.2" fill="#0c4d8c"/>
<circle cx="114.5" cy="430.7" r="2.2" fill="#0c4d8c"/>
<circle cx="108.1" cy="434" r="2.2" fill="#0c4d8c"/>
<circle cx="108.1" cy="443.1" r="2.2" fill="#0c4d8c"/>
<circle cx="128" cy="437.1" r="2.2" fill="#0c4d8c"/>
<circle cx="140.8" cy="433.4" r="2.2" fill="#0c4d8c"/>
<circle cx="140.8" cy="440.2" r="2.2" fill="#0c4d8c"/>
<circle cx="128" cy="443.8" r="2.2" fill="#0c4d8c"/>
<circle cx="214.2" cy="420.1" r="2.2" fill="#c8102e"/>
<circle cx="214.2" cy="433.8" r="2.2" fill="#c8102e"/>
<circle cx="214.2" cy="444.2" r="2.2" fill="#c8102e"/>
<circle cx="214.2" cy="454.6" r="2.2" fill="#c8102e"/>
<circle cx="214.2" cy="468.1" r="2.2" fill="#c8102e"/>
<circle cx="240" cy="432.1" r="2.2" fill="#c8102e"/>
<circle cx="240" cy="438.1" r="2.2" fill="#c8102e"/>
<circle cx="233.6" cy="456.3" r="2.2" fill="#c8102e"/>
<circle cx="246.2" cy="453.9" r="2.2" fill="#c8102e"/>
<circle cx="268.4" cy="495.8" r="2.2" fill="#0c4d8c"/>
<circle cx="259.9" cy="499.9" r="2.2" fill="#0c4d8c"/>
<circle cx="264.3" cy="502.5" r="2.2" fill="#0c4d8c"/>
<circle cx="268.4" cy="502.5" r="2.2" fill="#0c4d8c"/>
<circle cx="259.9" cy="506.6" r="2.2" fill="#0c4d8c"/>
<circle cx="272.8" cy="506.6" r="2.2" fill="#0c4d8c"/>
<circle cx="268.4" cy="509" r="2.2" fill="#0c4d8c"/>
<circle cx="264.3" cy="511.3" r="2.2" fill="#0c4d8c"/>
<circle cx="286" cy="491.1" r="2.2" fill="#0c4d8c"/>
<circle cx="299.2" cy="492.3" r="2.2" fill="#0c4d8c"/>
<circle cx="292.5" cy="494.6" r="2.2" fill="#0c4d8c"/>
<circle cx="292.5" cy="501.1" r="2.2" fill="#0c4d8c"/>
<circle cx="367.8" cy="469.8" r="2.2" fill="#c8102e"/>
<circle cx="361.7" cy="486.2" r="2.2" fill="#c8102e"/>
<circle cx="374.6" cy="482.5" r="2.2" fill="#c8102e"/>
<circle cx="374.6" cy="487.1" r="2.2" fill="#c8102e"/>
<circle cx="367.8" cy="495.4" r="2.2" fill="#c8102e"/>
<circle cx="394" cy="477.5" r="2.2" fill="#c8102e"/>
<circle cx="394" cy="484.6" r="2.2" fill="#c8102e"/>
<circle cx="394" cy="495.4" r="2.2" fill="#c8102e"/>
<circle cx="394" cy="502.5" r="2.2" fill="#c8102e"/>
<circle cx="420.9" cy="414.4" r="2.2" fill="#0c4d8c"/>
<circle cx="414.3" cy="443.2" r="2.2" fill="#0c4d8c"/>
<circle cx="427.4" cy="442.4" r="2.2" fill="#0c4d8c"/>
<circle cx="414.3" cy="458.8" r="2.2" fill="#0c4d8c"/>
<circle cx="414.3" cy="464.9" r="2.2" fill="#0c4d8c"/>
<circle cx="427.4" cy="463.2" r="2.2" fill="#0c4d8c"/>
<circle cx="414.3" cy="473.4" r="2.2" fill="#0c4d8c"/>
<circle cx="427.4" cy="472.9" r="2.2" fill="#0c4d8c"/>
<circle cx="447" cy="474.6" r="2.2" fill="#0c4d8c"/>
<circle cx="440.9" cy="480.7" r="2.2" fill="#0c4d8c"/>
<circle cx="453.8" cy="484.4" r="2.2" fill="#0c4d8c"/>
<circle cx="447" cy="490" r="2.2" fill="#0c4d8c"/>
<rect x="0" y="0" width="520" height="1.1" fill="#000"/>
<rect x="0" y="0" width="1.2" height="534" fill="#000"/>
<rect x="518.8" y="0" width="1.2" height="534" fill="#000"/>
<rect x="0" y="532.4" width="520" height="1.6" fill="#000"/>
</svg>
</body></html>
